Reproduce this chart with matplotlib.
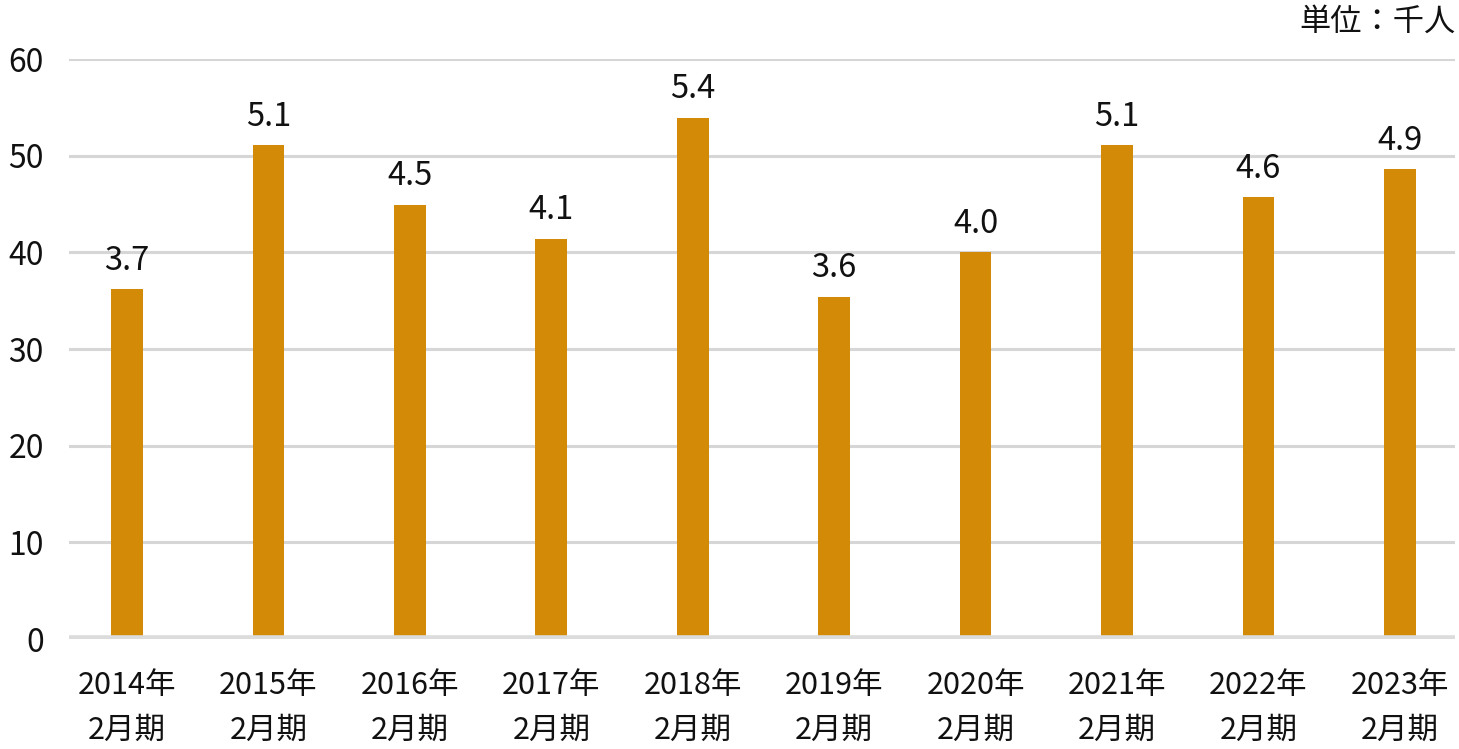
import numpy as np
import matplotlib.pyplot as plt

plt.rcParams['font.family'] = ['Noto Sans CJK JP', 'DejaVu Sans']

# periods and values (bar heights on the 0-60 axis, labels as printed)
periods = ['2014年\n2月期', '2015年\n2月期', '2016年\n2月期', '2017年\n2月期', '2018年\n2月期',
           '2019年\n2月期', '2020年\n2月期', '2021年\n2月期', '2022年\n2月期', '2023年\n2月期']
heights = [36.2, 51.1, 44.9, 41.4, 53.9, 35.4, 40.0, 51.1, 45.7, 48.6]
labels = ['3.7', '5.1', '4.5', '4.1', '5.4', '3.6', '4.0', '5.1', '4.6', '4.9']
yticks = [0, 10, 20, 30, 40, 50, 60]

bar_color = '#D38B07'
grid_color = '#D6D6D6'

fig = plt.figure(figsize=(14.59, 7.49), dpi=100)
ax = fig.add_axes([69 / 1459, 1 - 639 / 749, (1455 - 69) / 1459, (639 - 59) / 749])

x = np.arange(len(periods))
bars = ax.bar(x, heights, width=0.225, color=bar_color, zorder=3)

for b, lab in zip(bars, labels):
    ax.annotate(lab, (b.get_x() + b.get_width() / 2, b.get_height()),
                xytext=(0, 9), textcoords='offset points',
                ha='center', va='bottom', fontsize=23.5, color='#111111')

ax.set_xlim(-0.41, 9.39)
ax.set_ylim(0, 60)
ax.set_yticks(yticks)
ax.set_yticklabels([str(t) for t in yticks])
ax.set_xticks(x)
ax.set_xticklabels(periods, linespacing=1.6)

for t in yticks[1:]:
    ax.axhline(t, color=grid_color, lw=2.2, zorder=1)
ax.axhline(0, color='#DCDCDC', lw=5.5, zorder=4)

for s in ax.spines.values():
    s.set_visible(False)
ax.tick_params(axis='y', length=0, labelsize=23, colors='#111111', pad=18)
ax.tick_params(axis='x', length=0, labelsize=22, colors='#111111', pad=22)

fig.text(1456 / 1459, 1 - 22 / 749, '単位：千人', ha='right', va='center',
         fontsize=22.5, color='#111111')

fig.savefig('out.png', dpi=100)
